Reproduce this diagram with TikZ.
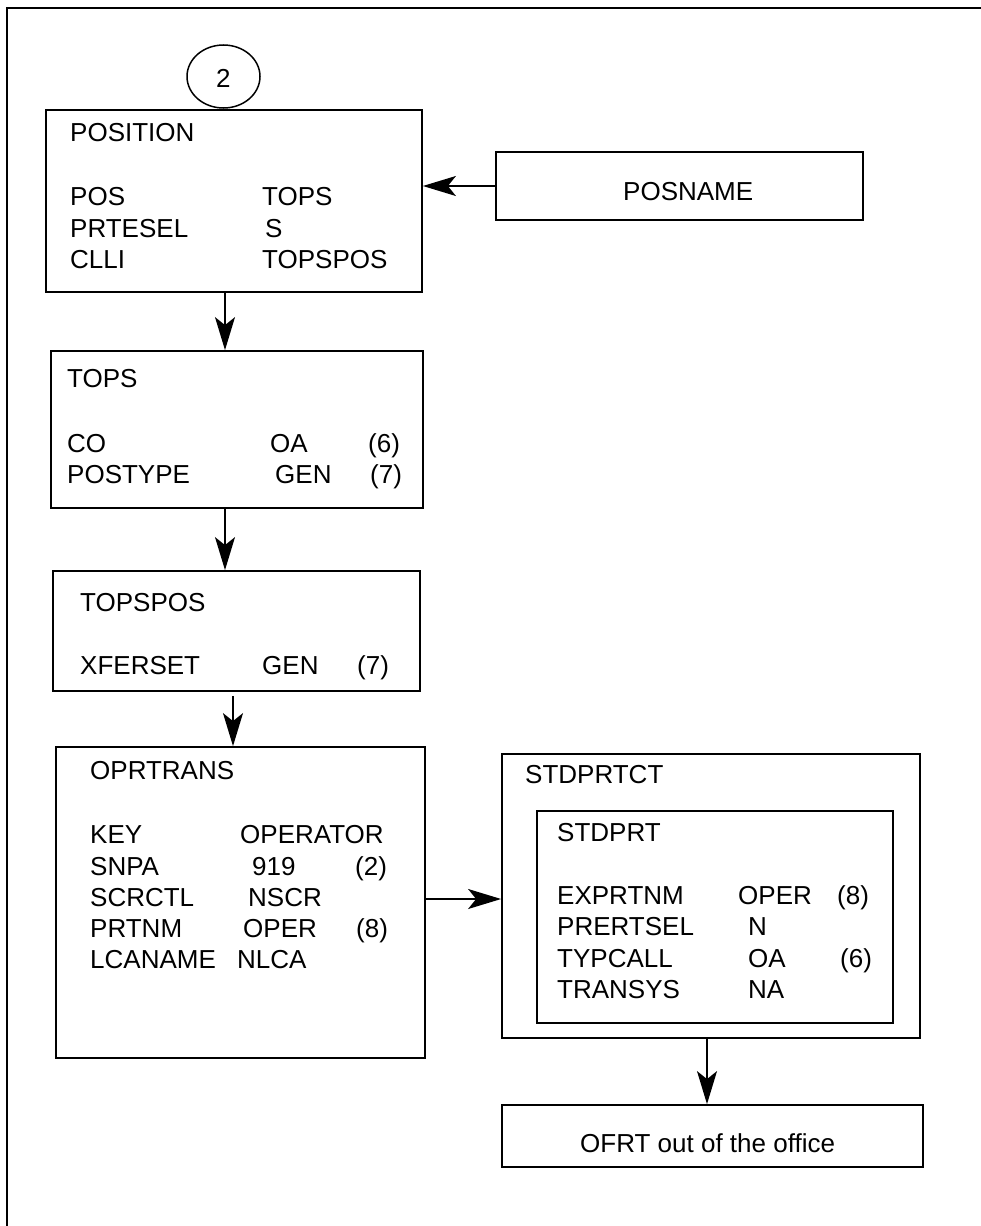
\documentclass[tikz,border=0pt]{standalone}
\usepackage{fontspec}
\setmainfont{Liberation Sans}
\usetikzlibrary{arrows.meta,shapes.geometric}
\tikzset{
  box/.style={draw, line width=1.8pt, inner sep=0pt, minimum width=#1},
  txt/.style={inner sep=0pt, anchor=base west, font=\fontsize{26}{31}\selectfont},
  arr/.style={line width=1.5pt, -{Stealth[length=33pt,width=20pt,inset=8pt]}},
  frame/.style={line width=1.6pt}
}
\begin{document}
\begin{tikzpicture}[x=1pt,y=-1pt]
\useasboundingbox (0,0) rectangle (981,1226);
% frame
\coordinate (fa) at (7,1226);
\coordinate (fb) at (7,8);
\coordinate (fc) at (981,8);
\draw[frame] (fa) -- (fb) -- (fc);

% circle
\node[draw, line width=1.5pt, ellipse, minimum width=73pt, minimum height=63pt, inner sep=0pt] (circ) at (223.5,76.5) {};
\node[txt] (c2) at (216,87) {2};

% boxes
\node[box=376pt, minimum height=182pt] (position) at (234,201) {};
\node[box=367pt, minimum height=68pt] (posname) at (679.5,186) {};
\node[box=372pt, minimum height=157pt] (tops) at (237,429.5) {};
\node[box=367pt, minimum height=120pt] (topspos) at (236.5,631) {};
\node[box=369pt, minimum height=311pt] (oprtrans) at (240.5,902.5) {};
\node[box=418pt, minimum height=284pt] (stdprtct) at (711,896) {};
\node[box=356pt, minimum height=212pt] (stdprt) at (715,917) {};
\node[box=421pt, minimum height=62pt] (ofrt) at (712.5,1136) {};

% POSITION
\node[txt] (t1) at (70,141) {POSITION};
\node[txt] (t2) at (70,205) {POS};
\node[txt] (t3) at (70,237) {PRTESEL};
\node[txt] (t4) at (70,268) {CLLI};
\node[txt] (t5) at (262,205) {TOPS};
\node[txt] (t6) at (265,237) {S};
\node[txt] (t7) at (262,268) {TOPSPOS};

% POSNAME
\node[txt] (t8) at (623,200) {POSNAME};

% TOPS
\node[txt] (t9) at (67,387) {TOPS};
\node[txt] (t10) at (67,452) {CO};
\node[txt] (t11) at (67,483) {POSTYPE};
\node[txt] (t12) at (270,452) {OA};
\node[txt] (t13) at (275,483) {GEN};
\node[txt] (t14) at (368,452) {(6)};
\node[txt] (t15) at (370,483) {(7)};

% TOPSPOS
\node[txt] (t16) at (80,611) {TOPSPOS};
\node[txt] (t17) at (80,674) {XFERSET};
\node[txt] (t18) at (262,674) {GEN};
\node[txt] (t19) at (357,674) {(7)};

% OPRTRANS
\node[txt] (t20) at (90,779) {OPRTRANS};
\node[txt] (t21) at (90,843) {KEY};
\node[txt] (t22) at (90,875) {SNPA};
\node[txt] (t23) at (90,906) {SCRCTL};
\node[txt] (t24) at (90,937) {PRTNM};
\node[txt] (t25) at (90,968) {LCANAME};
\node[txt] (t26) at (240,843) {OPERATOR};
\node[txt] (t27) at (252,875) {919};
\node[txt] (t28) at (248,906) {NSCR};
\node[txt] (t29) at (243,937) {OPER};
\node[txt] (t30) at (237,968) {NLCA};
\node[txt] (t31) at (355,875) {(2)};
\node[txt] (t32) at (356,937) {(8)};

% STDPRTCT / STDPRT
\node[txt] (t33) at (525,783) {STDPRTCT};
\node[txt] (t34) at (557,841) {STDPRT};
\node[txt] (t35) at (557,904) {EXPRTNM};
\node[txt] (t36) at (557,935) {PRERTSEL};
\node[txt] (t37) at (557,967) {TYPCALL};
\node[txt] (t38) at (557,998) {TRANSYS};
\node[txt] (t39) at (738,904) {OPER};
\node[txt] (t40) at (748,935) {N};
\node[txt] (t41) at (748,967) {OA};
\node[txt] (t42) at (748,998) {NA};
\node[txt] (t43) at (837,904) {(8)};
\node[txt] (t44) at (840,967) {(6)};

% OFRT
\node[txt] (t45) at (580,1152) {OFRT out of the office};

% arrows
\draw[arr] (posname.west) -- (posname.west -| position.east);
\draw[arr] ([xshift=-9pt]position.south) -- ([xshift=-9pt]position.south |- tops.north);
\draw[arr] ([xshift=-12pt]tops.south) -- ([xshift=-12pt]tops.south |- topspos.north);
\draw[arr] ([xshift=-3.5pt,yshift=-4pt]topspos.south) -- ([xshift=-3.5pt]topspos.south |- oprtrans.north);
\draw[arr] ([yshift=3.5pt]oprtrans.east) -- ([yshift=3.5pt]oprtrans.east -| stdprtct.west);
\draw[arr] ([xshift=-4pt]stdprtct.south) -- ([xshift=-4pt]stdprtct.south |- ofrt.north);
\end{tikzpicture}
\end{document}
